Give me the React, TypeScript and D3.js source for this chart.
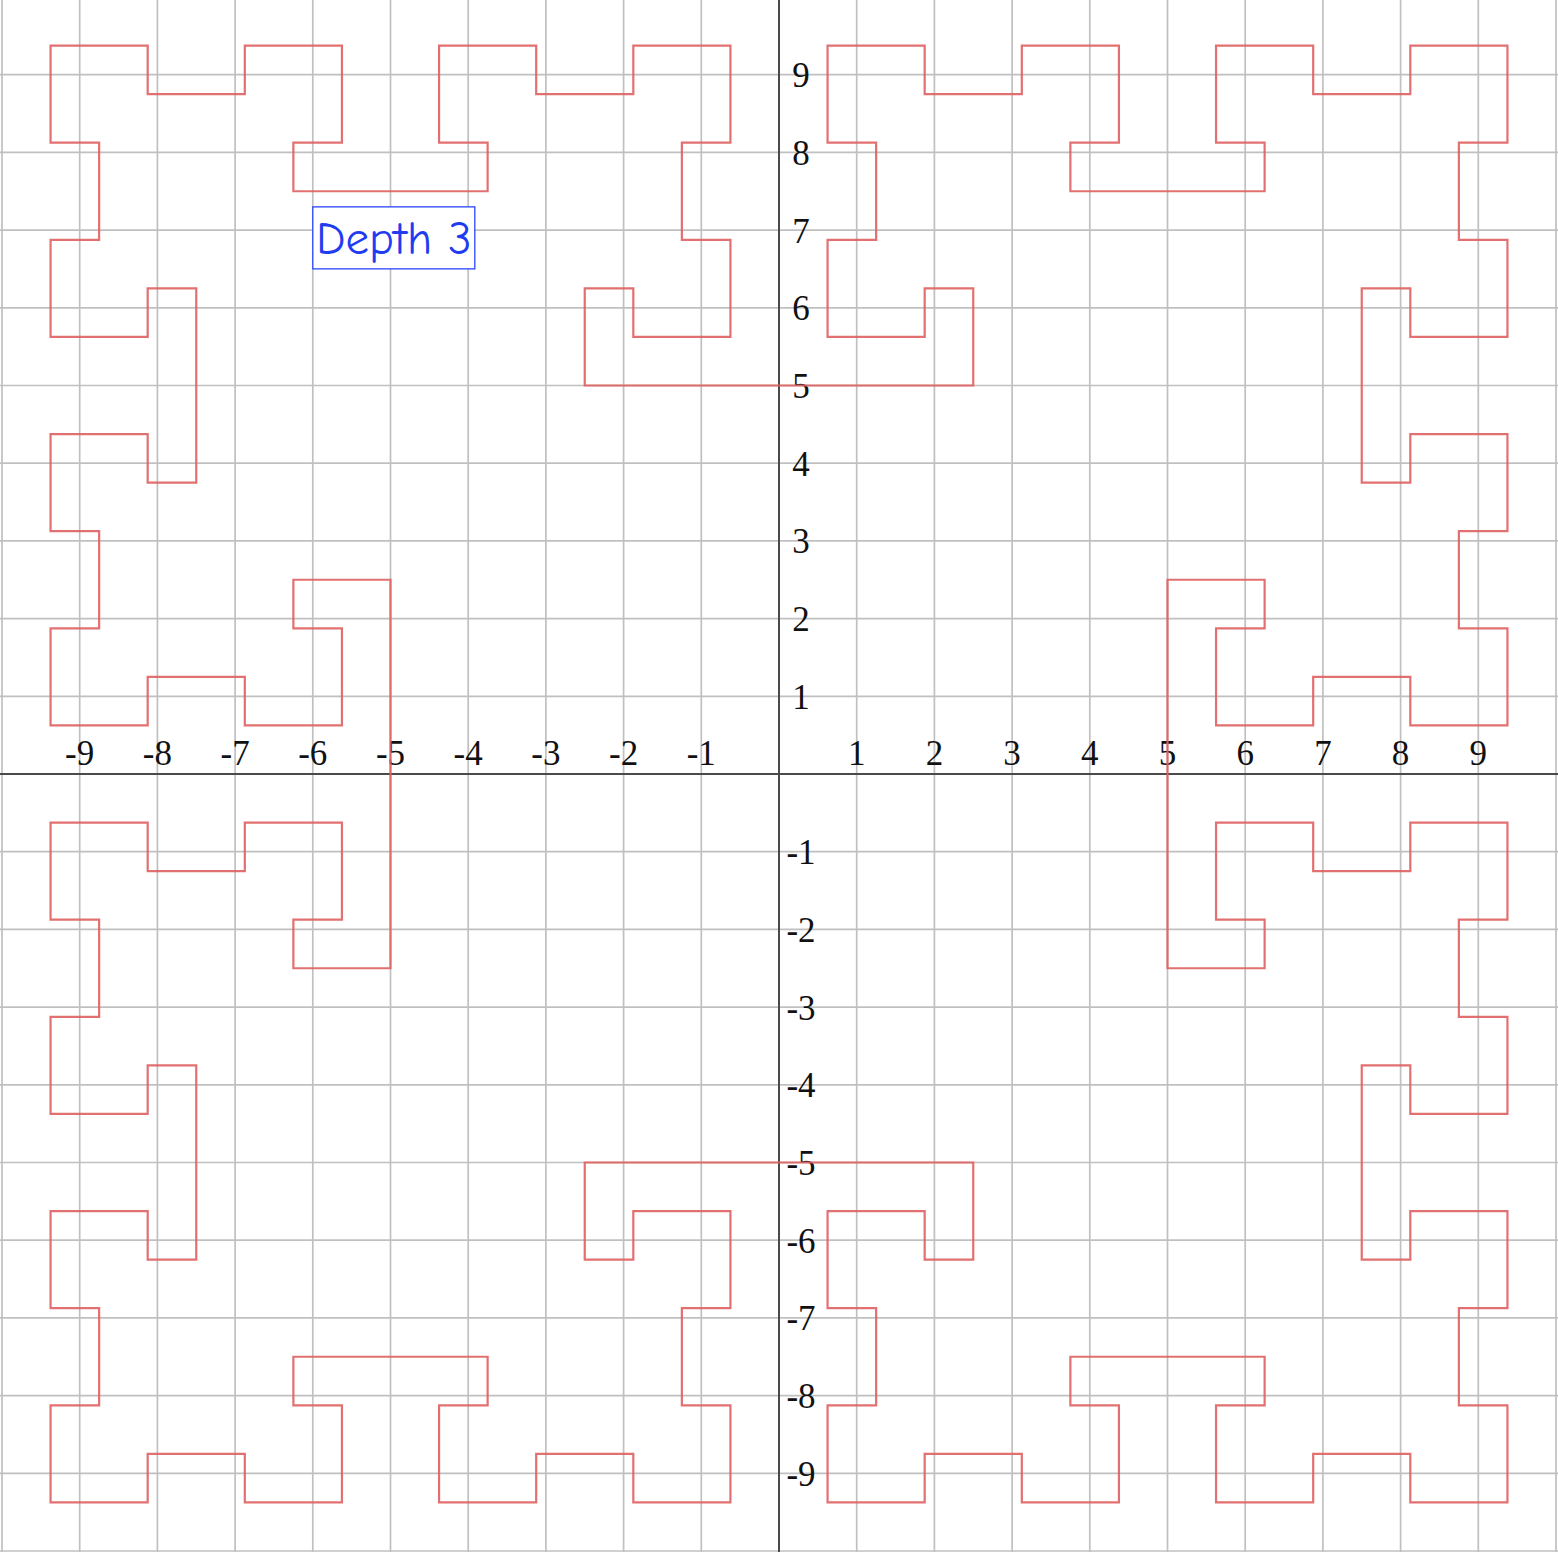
import React from "react";
import * as d3 from "d3";

const W = 1558;
const H = 1552;

// curve vertices in cell units (1 cell = STEP axis units)
const STEP = 0.625;

const quadrantNE: [number, number][] = [
  [4,8],[4,10],[3,10],[3,9],[1,9],[1,11],[2,11],[2,13],[1,13],[1,15],[3,15],[3,14],[5,14],[5,15],[7,15],[7,13],[6,13],[6,12],[10,12],[10,13],[9,13],[9,15],[11,15],[11,14],[13,14],[13,15],[15,15],[15,13],[14,13],[14,11],[15,11],[15,9],[13,9],[13,10],[12,10],[12,6],[13,6],[13,7],[15,7],[15,5],[14,5],[14,3],[15,3],[15,1],[13,1],[13,2],[11,2],[11,1],[9,1],[9,3],[10,3],[10,4],[8,4]
];
const quadrantSE: [number, number][] = [
  [8,-4],[10,-4],[10,-3],[9,-3],[9,-1],[11,-1],[11,-2],[13,-2],[13,-1],[15,-1],[15,-3],[14,-3],[14,-5],[15,-5],[15,-7],[13,-7],[13,-6],[12,-6],[12,-10],[13,-10],[13,-9],[15,-9],[15,-11],[14,-11],[14,-13],[15,-13],[15,-15],[13,-15],[13,-14],[11,-14],[11,-15],[9,-15],[9,-13],[10,-13],[10,-12],[6,-12],[6,-13],[7,-13],[7,-15],[5,-15],[5,-14],[3,-14],[3,-15],[1,-15],[1,-13],[2,-13],[2,-11],[1,-11],[1,-9],[3,-9],[3,-10],[4,-10],[4,-8]
];
const quadrantSW: [number, number][] = [
  [-4,-8],[-4,-10],[-3,-10],[-3,-9],[-1,-9],[-1,-11],[-2,-11],[-2,-13],[-1,-13],[-1,-15],[-3,-15],[-3,-14],[-5,-14],[-5,-15],[-7,-15],[-7,-13],[-6,-13],[-6,-12],[-10,-12],[-10,-13],[-9,-13],[-9,-15],[-11,-15],[-11,-14],[-13,-14],[-13,-15],[-15,-15],[-15,-13],[-14,-13],[-14,-11],[-15,-11],[-15,-9],[-13,-9],[-13,-10],[-12,-10],[-12,-6],[-13,-6],[-13,-7],[-15,-7],[-15,-5],[-14,-5],[-14,-3],[-15,-3],[-15,-1],[-13,-1],[-13,-2],[-11,-2],[-11,-1],[-9,-1],[-9,-3],[-10,-3],[-10,-4],[-8,-4]
];
const quadrantNW: [number, number][] = [
  [-8,4],[-10,4],[-10,3],[-9,3],[-9,1],[-11,1],[-11,2],[-13,2],[-13,1],[-15,1],[-15,3],[-14,3],[-14,5],[-15,5],[-15,7],[-13,7],[-13,6],[-12,6],[-12,10],[-13,10],[-13,9],[-15,9],[-15,11],[-14,11],[-14,13],[-15,13],[-15,15],[-13,15],[-13,14],[-11,14],[-11,15],[-9,15],[-9,13],[-10,13],[-10,12],[-6,12],[-6,13],[-7,13],[-7,15],[-5,15],[-5,14],[-3,14],[-3,15],[-1,15],[-1,13],[-2,13],[-2,11],[-1,11],[-1,9],[-3,9],[-3,10],[-4,10],[-4,8]
];

const gridValues = [-10,-9,-8,-7,-6,-5,-4,-3,-2,-1,0,1,2,3,4,5,6,7,8,9,10];
const xTickLabels = [-9,-8,-7,-6,-5,-4,-3,-2,-1,1,2,3,4,5,6,7,8,9];
const yTickLabels = [9,8,7,6,5,4,3,2,1,-1,-2,-3,-4,-5,-6,-7,-8,-9];
const titleText = "Depth 3";
const titleAnchor: [number, number] = [-6, 6.9];

export default function App() {
  const unit = 77.7;
  const cx = 779;
  const cy = 774;
  const x = d3.scaleLinear().domain([-10, 10]).range([cx - 10 * unit, cx + 10 * unit]);
  const y = d3.scaleLinear().domain([-10, 10]).range([cy + 10 * unit, cy - 10 * unit]);

  const loop = [...quadrantNE, ...quadrantSE, ...quadrantSW, ...quadrantNW];
  const line = d3
    .line<[number, number]>()
    .x((p) => x(p[0] * STEP))
    .y((p) => y(p[1] * STEP))
    .curve(d3.curveLinearClosed);

  const serif = "'Liberation Serif', 'Times New Roman', serif";
  const tx = x(titleAnchor[0]);
  const ty = y(titleAnchor[1]);

  return (
    <svg
      width={W}
      height={H}
      style={{ position: "absolute", left: 0, top: 0, background: "#fff" }}
    >
      <rect x={0} y={0} width={W} height={H} fill="#fff" />
      <g>
        {gridValues.map((v) => (
          <line key={"gx" + v} x1={x(v)} x2={x(v)} y1={0} y2={H} stroke="#c0c0c0" strokeWidth={1.7} />
        ))}
        {gridValues.map((v) => (
          <line key={"gy" + v} x1={0} x2={W} y1={y(v)} y2={y(v)} stroke="#c0c0c0" strokeWidth={1.7} />
        ))}
      </g>
      <line x1={0} x2={W} y1={y(0)} y2={y(0)} stroke="#4a4a4a" strokeWidth={2} />
      <line x1={x(0)} x2={x(0)} y1={0} y2={H} stroke="#4a4a4a" strokeWidth={2} />
      <g fontFamily={serif} fontSize={35} fill="#111">
        {xTickLabels.map((v) => (
          <text key={"xl" + v} x={x(v)} y={y(0) - 9} textAnchor="middle">
            {v}
          </text>
        ))}
        {yTickLabels.map((v) => (
          <text key={"yl" + v} x={x(0) + 22} y={y(v) + 1} textAnchor="middle" dominantBaseline="central">
            {v}
          </text>
        ))}
      </g>
      <path d={line(loop) || ""} fill="none" stroke="#e06060" strokeOpacity={0.9} strokeWidth={2.2} />
      <g>
        <rect x={tx} y={ty - 31} width={162} height={62} fill="#fff" stroke="#2a44ff" strokeWidth={1.3} />
        <text
          x={tx + 81}
          y={ty + 1}
          textAnchor="middle"
          dominantBaseline="central"
          fontFamily="'Comic Sans MS', 'Comic Neue', 'DejaVu Sans', sans-serif"
          fontSize={47}
          fill="#1f3cf0"
        >
          {titleText}
        </text>
      </g>
    </svg>
  );
}
